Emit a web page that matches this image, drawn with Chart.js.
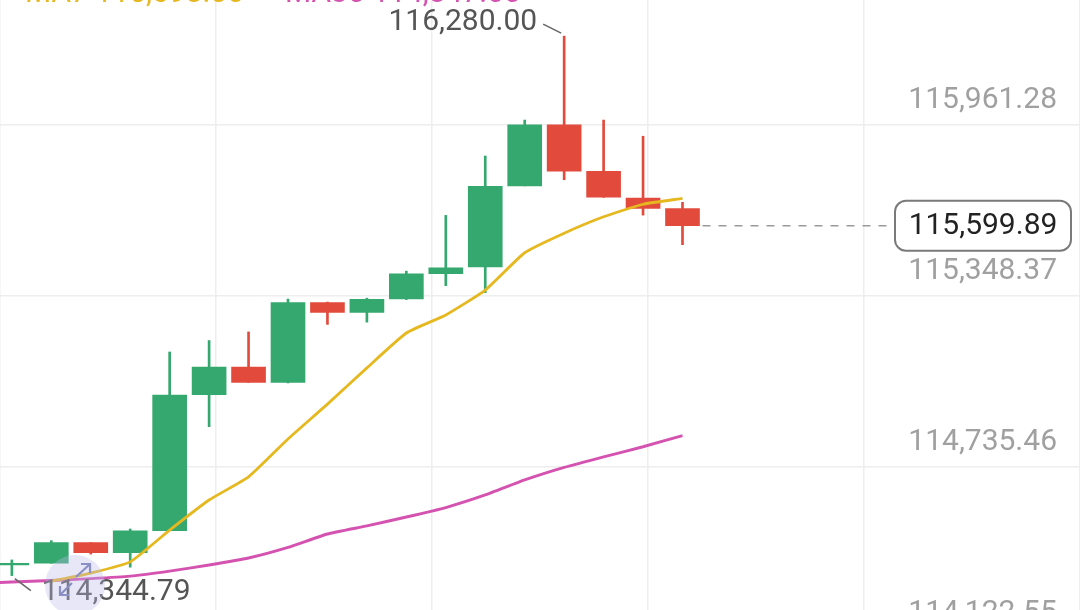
<!DOCTYPE html>
<html><head><meta charset="utf-8">
<script src="https://cdn.jsdelivr.net/npm/chart.js@4.4.1/dist/chart.umd.min.js"></script>
<style>html,body{margin:0;padding:0;background:#fff;overflow:hidden}#wrap{width:1080px;height:610px;position:relative}canvas{display:block}</style>
</head><body><div id="wrap"><canvas id="c" width="1080" height="610"></canvas></div>
<script>
// ---- data ----
const candleIdx = [1,2,3,4,5,6,7,8,9,10,11,12,13,14,15,16,17,18];
const opens  = [114383,114389,114463,114427,114506,114994,115093,115038,115324,115289,115337,115428,115452,115743,115962,115795,115699,115661];
const closes = [114389,114463,114427,114505,114992,115093,115038,115324,115289,115336,115427,115449,115741,115962,115796,115702,115662,115599.89];
const highs  = [114401,114470,114463,114512,115147,115188,115219,115337,115326,115340,115437,115637,115850,115979,116280.00,115979,115921,115684];
const lows   = [114344.79,114389,114422,114375,114506,114879,115038,115036,115246,115254,115335,115385,115360,115743,115765,115702,115638,115532];
const maIdx  = [0,1,2,3,4,5,6,7,8,9,10,11,12,13,14,15,16,17,18];
const ma7    = [null,null,114325,114354,114394,114508,114616,114699,114835,114960,115090,115215,115280,115369,115503,115573,115632,115677,115698];
const ma30   = [114316,114322,114327,114334,114343,114361,114383,114408,114446,114494,114523,114555,114589,114634,114688,114733,114771,114807,114847];
const yTicks = [114122.55,114735.46,115348.37,115961.28];
const legendNames = ['MA7','MA30'];

// ---- view ----
const xMin = 0.6996, xMax = 28.076;
const yMin = 114221.4, yMax = 116409.7;
const GREEN = '#34a86e', RED = '#e24b3c', YEL = '#e6b820', PINK = '#d452b0';
const FONT = '30px Roboto, "Noto Sans", sans-serif';
const fmt = v => v.toLocaleString('en-US',{minimumFractionDigits:2,maximumFractionDigits:2});
const up = candleIdx.map((_,i)=>closes[i]>=opens[i]);

const overlay = {
  id:'overlay',
  afterDraw(chart){
    const c = chart.ctx, xs = chart.scales.x, ys = chart.scales.y;
    c.save();
    // y tick labels
    c.font = FONT; c.fillStyle = '#a0a0a0'; c.textAlign='right'; c.textBaseline='middle';
    ys.ticks.forEach(t => { c.fillText(fmt(t.value), 1057, ys.getPixelForValue(t.value) - 24); });
    // legend (top, clipped)
    c.textAlign='left'; c.textBaseline='alphabetic';
    c.fillStyle = YEL; c.fillText(legendNames[0]+' '+fmt(ma7[ma7.length-1]), 25, 2);
    c.fillStyle = PINK; c.fillText(legendNames[1]+' '+fmt(ma30[ma30.length-1]), 285, 2);
    // high annotation
    let hi = 0; highs.forEach((h,i)=>{ if(h>highs[hi]) hi=i; });
    const hx = xs.getPixelForValue(candleIdx[hi]), hy = ys.getPixelForValue(highs[hi]);
    c.strokeStyle='#666'; c.lineWidth=1.5;
    c.beginPath(); c.moveTo(hx-21, hy-12); c.lineTo(hx-3, hy-3); c.stroke();
    c.fillStyle='#555'; c.textAlign='right'; c.textBaseline='middle';
    c.fillText(fmt(highs[hi]), hx-27, hy-14);
    // low annotation
    let lo = 0; lows.forEach((l,i)=>{ if(l<lows[lo]) lo=i; });
    const lx = xs.getPixelForValue(candleIdx[lo]), ly = ys.getPixelForValue(lows[lo]);
    c.beginPath(); c.moveTo(lx+3, ly+3); c.lineTo(lx+19, ly+15); c.stroke();
    c.textAlign='left'; c.fillText(fmt(lows[lo]), lx+30, ly+17);
    // circle icon
    c.fillStyle='rgba(185,185,235,0.35)';
    c.beginPath(); c.arc(75, 585, 30, 0, Math.PI*2); c.fill();
    c.strokeStyle='#8a8fc4'; c.lineWidth=2.2;
    c.beginPath(); c.moveTo(76,577); c.lineTo(90,564); c.moveTo(81,564); c.lineTo(90,564); c.lineTo(90,573); c.stroke();
    c.beginPath(); c.moveTo(72,583); c.lineTo(60,595); c.moveTo(60,586); c.lineTo(60,595); c.lineTo(69,595); c.stroke();
    // current price line + box
    const last = closes.length-1;
    const cx = xs.getPixelForValue(candleIdx[last]), cy = ys.getPixelForValue(closes[last]);
    c.strokeStyle='#9a9a9a'; c.lineWidth=1.3; c.setLineDash([8,8]);
    c.beginPath(); c.moveTo(cx+20, cy); c.lineTo(893, cy); c.stroke();
    c.setLineDash([]);
    const bx=895, bw=176, bh=50, by=cy-25, r=11;
    c.fillStyle='#fff'; c.strokeStyle='#7a7a7a'; c.lineWidth=2;
    c.beginPath(); c.roundRect(bx, by, bw, bh, r); c.fill(); c.stroke();
    c.fillStyle='#222'; c.textAlign='center'; c.textBaseline='middle';
    c.fillText(fmt(closes[last]), bx+bw/2, cy+1);
    c.restore();
  }
};

new Chart(document.getElementById('c'), {
  type:'bar',
  data:{ datasets:[
    { type:'line', label:'MA7', data: maIdx.map((x,i)=>({x, y:ma7[i]})), borderColor:YEL, borderWidth:2.8, pointRadius:0, tension:0.15, order:0, xAxisID:'x', yAxisID:'y' },
    { type:'line', label:'MA30', data: maIdx.map((x,i)=>({x, y:ma30[i]})), borderColor:PINK, borderWidth:2.9, pointRadius:0, tension:0.15, order:0, xAxisID:'x', yAxisID:'y' },
    { type:'bar', label:'body', data: candleIdx.map((x,i)=>({x, y:[opens[i], closes[i]]})), backgroundColor: up.map(u=>u?GREEN:RED), barThickness:34, grouped:false, borderWidth:0, order:1, xAxisID:'x', yAxisID:'y' },
    { type:'bar', label:'wick', data: candleIdx.map((x,i)=>({x, y:[lows[i], highs[i]]})), backgroundColor: up.map(u=>u?GREEN:RED), barThickness:2, grouped:false, borderWidth:0, order:2, xAxisID:'x', yAxisID:'y' }
  ]},
  options:{
    responsive:false, animation:false, devicePixelRatio:1,
    layout:{padding:0},
    plugins:{legend:{display:false}, tooltip:{enabled:false}},
    scales:{
      x:{type:'linear', min:xMin, max:xMax, display:false, offset:false, grid:{offset:false}},
      xg:{type:'linear', min:0, max:5, position:'bottom', offset:false, ticks:{display:false, stepSize:1}, grid:{offset:false, color:'#eeeeee', lineWidth:1.5, drawTicks:false}, border:{display:false}},
      y:{type:'linear', position:'right', min:yMin, max:yMax,
         afterBuildTicks: s => { s.ticks = yTicks.map(v=>({value:v})); },
         ticks:{display:false}, grid:{color:'#eeeeee', lineWidth:1.5, drawTicks:false}, border:{display:false}}
    }
  },
  plugins:[overlay]
});
</script></body></html>
